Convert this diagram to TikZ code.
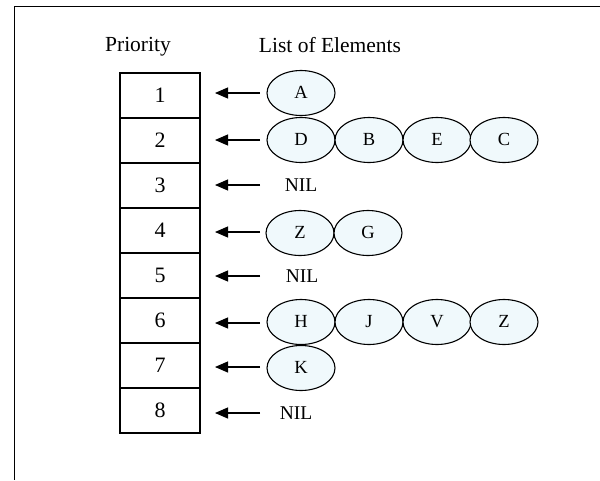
\documentclass[tikz,border=0pt]{standalone}
\usepackage{fontspec}
\setmainfont{Liberation Serif}
\usetikzlibrary{shapes.geometric,arrows.meta}
\definecolor{elfill}{RGB}{240,249,252}
\begin{document}
\begin{tikzpicture}[x=1pt,y=-1pt,
  pbox/.style={draw,line width=1.3pt,minimum width=80pt,minimum height=45pt,inner sep=0pt,font=\fontsize{22}{24}\selectfont},
  elem/.style={draw,ellipse,line width=1.1pt,fill=elfill,minimum width=68pt,minimum height=45pt,inner sep=0pt,text height=10pt,text depth=0pt,font=\fontsize{18.5}{20}\selectfont},
  nil/.style={inner sep=0pt,font=\fontsize{19.5}{21}\selectfont},
  head/.style={inner sep=0pt,font=\fontsize{21.5}{24}\selectfont},
  ptr/.style={line width=1.1pt,-{Triangle[length=13pt,width=11pt]}}]
\useasboundingbox (0,0) rectangle (600,480);
\draw[line width=1.6pt] (600,6.5) -- (14.5,6.5) -- (14.5,480);
\node[head] (hp) at (138,47) {Priority};
\node[head] (hl) at (330,45) {List of Elements};
\foreach \i in {1,...,8}{
  \node[pbox] (p\i) at (160,{95.5+45*(\i-1)}) {\i};
}
% row 1
\node[elem] (a) at (301,93) {A};
% row 2
\node[elem] (d) at (301,140) {D};
\node[elem] (b) at (369,140) {B};
\node[elem] (e) at (437,140) {E};
\node[elem] (c) at (504,140) {C};
% row 3
\node[nil] (n3) at (301,185) {NIL};
% row 4
\node[elem] (z1) at (300,233) {Z};
\node[elem] (g) at (368,233) {G};
% row 5
\node[nil] (n5) at (302,276) {NIL};
% row 6
\node[elem] (h) at (301,322) {H};
\node[elem] (j) at (369,322) {J};
\node[elem] (v) at (437,322) {V};
\node[elem] (z2) at (504,322) {Z};
% row 7
\node[elem] (k) at (301,368) {K};
% row 8
\node[nil] (n8) at (296,413) {NIL};
% arrow ends
\foreach \n/\y in {1/93,2/140,3/185,4/232,5/276,6/323,7/367,8/413}{
  \coordinate (s\n) at (260,\y);
  \coordinate (t\n) at (215,\y);
  \draw[ptr] (s\n) -- (t\n);
}
\end{tikzpicture}
\end{document}
